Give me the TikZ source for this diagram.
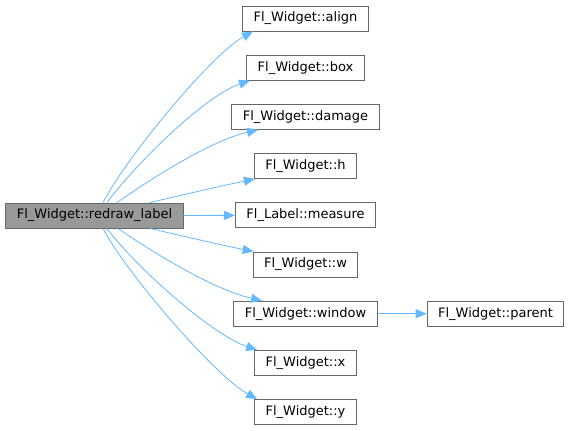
\documentclass[tikz,border=0pt]{standalone}
\usepackage{fontspec}
\setmainfont{DejaVu Sans}
\definecolor{edgeblue}{HTML}{63B8FF}
\definecolor{boxgray}{HTML}{999999}
\definecolor{framegray}{HTML}{666666}
\usetikzlibrary{arrows.meta, positioning}

\begin{document}
\begin{tikzpicture}[
      x=1pt, y=-1pt,
      fn/.style={rectangle, draw=framegray, fill=white, line width=0.9pt,
                 minimum height=25pt, inner xsep=11pt, inner ysep=0pt,
                 font=\fontsize{13}{15}\selectfont},
      call/.style={-{Triangle[length=11pt, width=9pt]}, line width=0.8pt, color=edgeblue},
      node distance=23.3pt
    ]
    \useasboundingbox (0,0) rectangle (571,431);

    % Caller
    \node[fn, fill=boxgray] (redraw) at (94.5,215.5) {Fl\_Widget::redraw\_label};

    % Callees
    \node[fn] (align) at (305.5,18.5) {Fl\_Widget::align};
    \node[fn, below=of align] (box) {Fl\_Widget::box};
    \node[fn, below=of box] (damage) {Fl\_Widget::damage};
    \node[fn, below=of damage] (h) {Fl\_Widget::h};
    \node[fn, below=of h] (measure) {Fl\_Label::measure};
    \node[fn, below=of measure] (w) {Fl\_Widget::w};
    \node[fn, below=of w] (window) {Fl\_Widget::window};
    \node[fn, below=of window] (x) {Fl\_Widget::x};
    \node[fn, below=of x] (y) {Fl\_Widget::y};
    \node[fn, right=49pt of window] (parent) {Fl\_Widget::parent};

    % Calls from redraw_label
    \draw[call] ([xshift=8.5pt]redraw.north) .. controls +(22,-43) and +(-43,24) .. ([xshift=-52.5pt]align.south);
    \draw[call] ([xshift=12.5pt]redraw.north) .. controls +(28,-38) and +(-45,15) .. ([xshift=-55.5pt]box.south);
    \draw[call] ([xshift=22.5pt]redraw.north) .. controls +(33,-23) and +(-48,11) .. ([xshift=-47.5pt]damage.south);
    \draw[call] ([xshift=55.5pt]redraw.north) .. controls +(30,-7) and +(-30,6) .. ([xshift=1pt]h.south west);
    \draw[call] (redraw) -- (measure);
    \draw[call] ([xshift=55.5pt]redraw.south) .. controls +(30,7) and +(-30,-6) .. ([xshift=1pt]w.north west);
    \draw[call] ([xshift=23.5pt]redraw.south) .. controls +(33,23) and +(-48,-11) .. ([xshift=-43.5pt]window.north);
    \draw[call] ([xshift=12.5pt]redraw.south) .. controls +(28,38) and +(-45,-15) .. ([xshift=3pt]x.north west);
    \draw[call] ([xshift=8.5pt]redraw.south) .. controls +(22,43) and +(-43,-24) .. ([xshift=3pt]y.north west);

    % window calls parent
    \draw[call] (window) -- (parent);

  \end{tikzpicture}
\end{document}
